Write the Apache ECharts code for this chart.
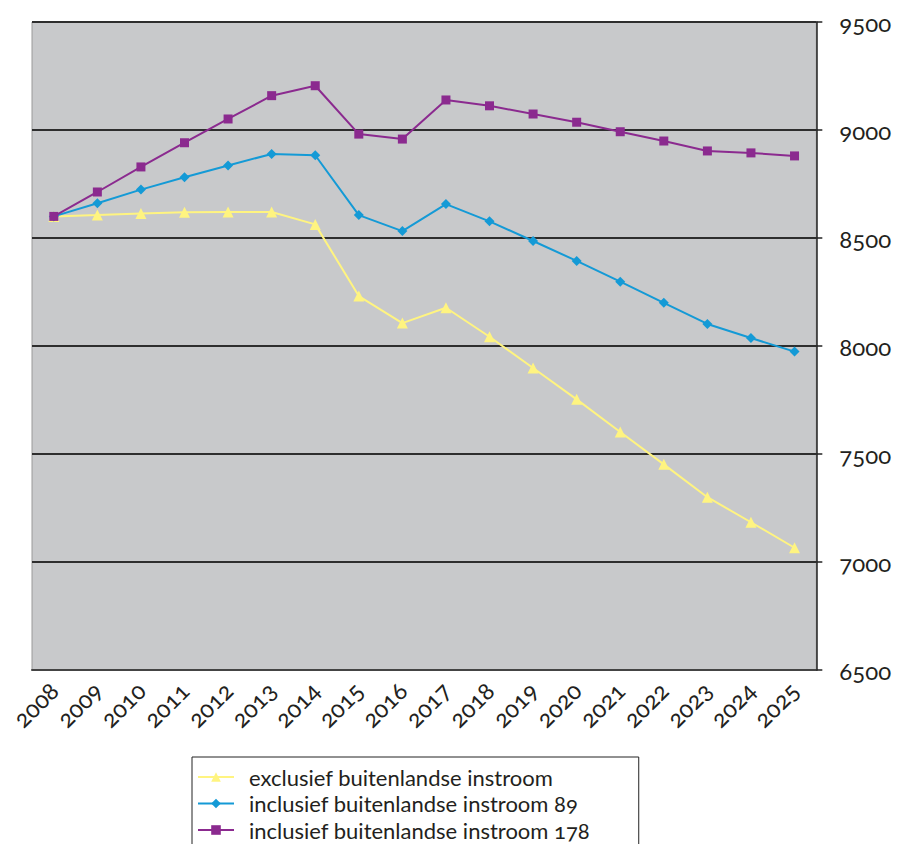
<!DOCTYPE html>
<html>
<head>
<meta charset="utf-8">
<script src="https://cdn.jsdelivr.net/npm/echarts@6/dist/echarts.min.js"></script>
<style>
  html, body { margin: 0; padding: 0; background: #ffffff; }
  #chart { width: 898px; height: 844px; }
  svg text { font-variant-numeric: oldstyle-nums; font-feature-settings: "onum" 1; }
</style>
</head>
<body>
<div id="chart"></div>
<script>
// Years on the horizontal axis
const years = ['2008','2009','2010','2011','2012','2013','2014','2015','2016',
               '2017','2018','2019','2020','2021','2022','2023','2024','2025'];

// Projections per scenario
const exclusief = [8600, 8606, 8614, 8619, 8620, 8620, 8563, 8231, 8106,
                   8177, 8043, 7898, 7753, 7602, 7452, 7300, 7184, 7066];
const inclusief89 = [8600, 8661, 8724, 8781, 8836, 8889, 8883, 8606, 8532,
                     8657, 8577, 8486, 8394, 8298, 8200, 8102, 8037, 7974];
const inclusief178 = [8600, 8713, 8829, 8941, 9051, 9159, 9205, 8981, 8958,
                      9139, 9112, 9074, 9036, 8992, 8949, 8903, 8894, 8880];

const seriesNames = ['exclusief buitenlandse instroom',
                     'inclusief buitenlandse instroom 89',
                     'inclusief buitenlandse instroom 178'];

const yTicks = { min: 6500, max: 9500, interval: 500 };

const FONT = 'Lato, "Open Sans", sans-serif';
const TEXT = '#231f20';

const chart = echarts.init(document.getElementById('chart'), null, { renderer: 'svg' });

function line(name, data, color, symbol, size) {
  return {
    name: name,
    type: 'line',
    data: data,
    symbol: symbol,
    symbolSize: size,
    lineStyle: { color: color, width: 2 },
    itemStyle: { color: color },
    emphasis: { disabled: true },
    animation: false
  };
}

chart.setOption({
  animation: false,
  textStyle: { fontFamily: FONT },
  grid: {
    left: 32, right: 81, top: 22, bottom: 174,
    show: true,
    backgroundColor: '#c8c9cb',
    borderColor: '#9a9a9a',
    borderWidth: 1
  },
  legend: {
    orient: 'vertical',
    left: 192,
    top: 757,
    height: 200,
    backgroundColor: '#ffffff',
    borderColor: '#222222',
    borderWidth: 1,
    padding: [7, 46, 10, 5],
    itemWidth: 36,
    itemHeight: 12,
    itemGap: 0.5,
    textStyle: {
      fontFamily: FONT, fontSize: 22, color: TEXT,
      lineHeight: 26, padding: [0, 0, 0, 10]
    },
    data: seriesNames
  },
  xAxis: {
    type: 'category',
    data: years,
    boundaryGap: true,
    axisLine: { lineStyle: { color: '#444444', width: 2 } },
    axisTick: { length: 5, lineStyle: { color: '#444444', width: 1.5 } },
    axisLabel: {
      rotate: 45, margin: 16, fontSize: 24, color: TEXT, fontFamily: FONT,
      interval: 0
    },
    splitLine: { show: false }
  },
  yAxis: {
    type: 'value',
    position: 'right',
    min: yTicks.min, max: yTicks.max, interval: yTicks.interval,
    axisLine: { show: true, lineStyle: { color: '#222222', width: 1.5 } },
    axisTick: { show: true, length: 6, lineStyle: { color: '#222222', width: 1.5 } },
    axisLabel: {
      margin: 23, fontSize: 24, color: TEXT, fontFamily: FONT,
      formatter: function (v) { return String(v); }
    },
    splitLine: { show: true, lineStyle: { color: '#2e2e2e', width: 2 } }
  },
  series: [
    line(seriesNames[0], exclusief, '#fff480', 'triangle', 11),
    line(seriesNames[1], inclusief89, '#149ad6', 'diamond', 10),
    line(seriesNames[2], inclusief178, '#8b2a8f', 'rect', 9)
  ]
});
</script>
</body>
</html>
